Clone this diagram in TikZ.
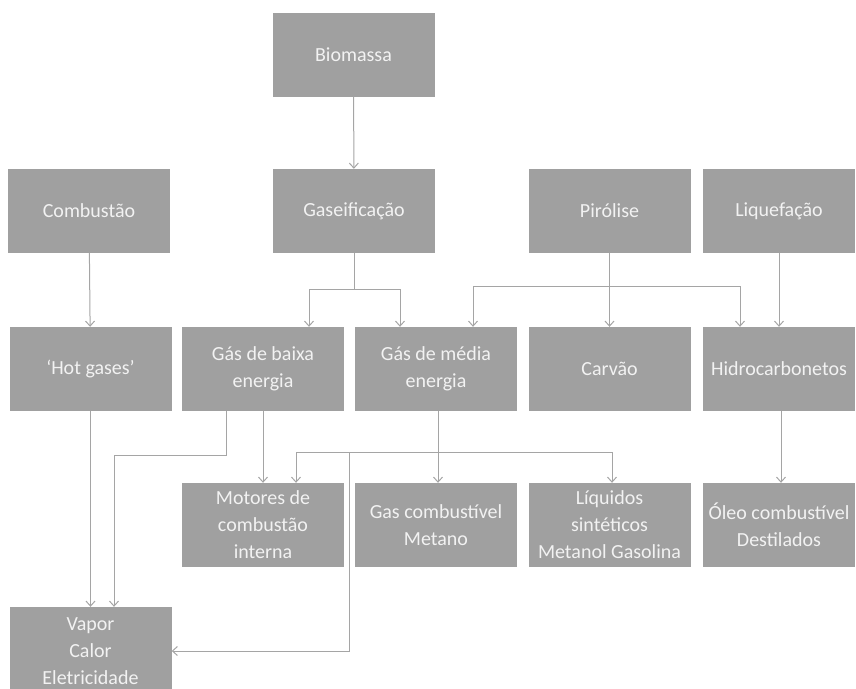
\documentclass[tikz,border=0pt]{standalone}
\usepackage{fontspec}
\setmainfont{Carlito}
\usetikzlibrary{arrows.meta}
\definecolor{caixa}{RGB}{160,160,160}
\definecolor{linha}{RGB}{165,165,165}
\tikzset{
  bloco/.style={fill=caixa,text=white!95!black,align=center,inner sep=0pt,
    minimum width=162pt,minimum height=84pt,font=\fontsize{20}{27}\selectfont},
  estreito/.style={minimum width=152pt},
  seta/.style={draw=linha,line width=1pt,-{Straight Barb[length=5pt,width=9pt]}},
  traco/.style={draw=linha,line width=1pt}
}

\begin{document}
\begin{tikzpicture}[x=1pt,y=-1pt]
\useasboundingbox (0,0) rectangle (856,688);
% linha de cima
\node[bloco] (bio) at (353.5,54.5) {Biomassa};
\node[bloco] (comb) at (89,211) {Combustão}; \node[bloco] (gas) at (354,211) {Gaseificação};
\node[bloco] (pir) at (609.5,211) {Pirólise}; \node[bloco,estreito] (liq) at (779,211) {Liquefação};
% produtos
\node[bloco] (hot) at (90.5,369) {‘Hot gases’}; \node[bloco] (baixa) at (263,369) {Gás de baixa\\energia};
\node[bloco] (media) at (436,369) {Gás de média\\energia}; \node[bloco] (carv) at (609.5,369) {Carvão};
\node[bloco,estreito] (hidro) at (779,369) {Hidrocarbonetos};
% usos
\node[bloco] (mot) at (263,525) {Motores de\\combustão\\interna}; \node[bloco] (gcomb) at (436,525) {Gas combustível\\Metano};
\node[bloco] (liqs) at (609.5,525) {Líquidos\\sintéticos\\Metanol Gasolina};
\node[bloco,estreito] (oleo) at (779,525) {Óleo combustível\\Destilados};
\node[bloco,minimum height=88pt] (vap) at (90.5,651) {Vapor\\Calor\\Eletricidade};
% ligacoes
\draw[seta] (bio) -- (gas); \draw[seta] (comb) -- (hot); \draw[seta] (liq) -- (hidro);
\coordinate (gj) at (354,289); \draw[traco] (gas.south) -- (gj);
\draw[seta] (gj) -| ([xshift=46pt]baixa.north); \draw[seta] (gj) -| ([xshift=-36pt]media.north);
\draw[seta] (pir.south) -- (carv.north);
\coordinate (pj) at (609.5,286);
\draw[seta] (pj) -| ([xshift=37pt]media.north); \draw[seta] (pj) -| ([xshift=-39pt]hidro.north);
\draw[seta] (hot) -- (vap);
\coordinate (bj) at (114,455);
\draw[seta] ([xshift=-37pt]baixa.south) |- (bj) -- (bj |- vap.north);
\draw[seta] (baixa) -- (mot);
\draw[seta] ([xshift=2pt]media.south) -- ([xshift=2pt]gcomb.north);
\coordinate (mj) at (438,452); \coordinate (mk) at (349,452);
\draw[seta] (mj) -| ([xshift=33pt]mot.north); \draw[seta] (mj) -| ([xshift=2.5pt]liqs.north);
\draw[seta] (mk) |- (vap.east);
\draw[seta] ([xshift=2pt]hidro.south) -- ([xshift=2pt]oleo.north);
\end{tikzpicture}
\end{document}
